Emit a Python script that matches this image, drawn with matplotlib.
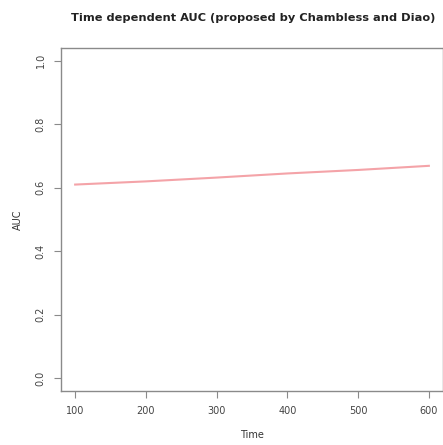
import numpy as np
import matplotlib.pyplot as plt

# AUC values
time = [100, 200, 300, 400, 500, 600]
auc = [0.610, 0.620, 0.632, 0.645, 0.656, 0.669]

x_ticks = [100, 200, 300, 400, 500, 600]
y_ticks = [0.0, 0.2, 0.4, 0.6, 0.8, 1.0]

fig = plt.figure(figsize=(4.43, 4.45), dpi=100)
ax = fig.add_axes([61 / 443, 1 - 391 / 445, 382 / 443, 343 / 445])

ax.plot(time, auc, color='#f4a3a8', linewidth=1.5)

ax.set_xlim(80, 620)
ax.set_ylim(-0.04, 1.04)
ax.set_xticks(x_ticks)
ax.set_yticks(y_ticks)
ax.set_xticklabels([str(v) for v in x_ticks])
ax.set_yticklabels([f"{v:.1f}" for v in y_ticks], rotation=90, va='center')

for s in ax.spines.values():
    s.set_color('#8a8a8a')
    s.set_linewidth(1.0)
ax.tick_params(direction='out', length=5, color='#8a8a8a', labelcolor='#444444',
               labelsize=7, pad=6)

ax.set_xlabel("Time", fontsize=7, color='#333333', labelpad=10)
ax.set_ylabel("AUC", fontsize=7, color='#333333', labelpad=9)
fig.text(0.571, 1 - 18 / 445, "Time dependent AUC (proposed by Chambless and Diao)",
         ha='center', va='center', fontsize=8.2, fontweight='bold', color='#222222')

fig.savefig("out.png", dpi=100)
